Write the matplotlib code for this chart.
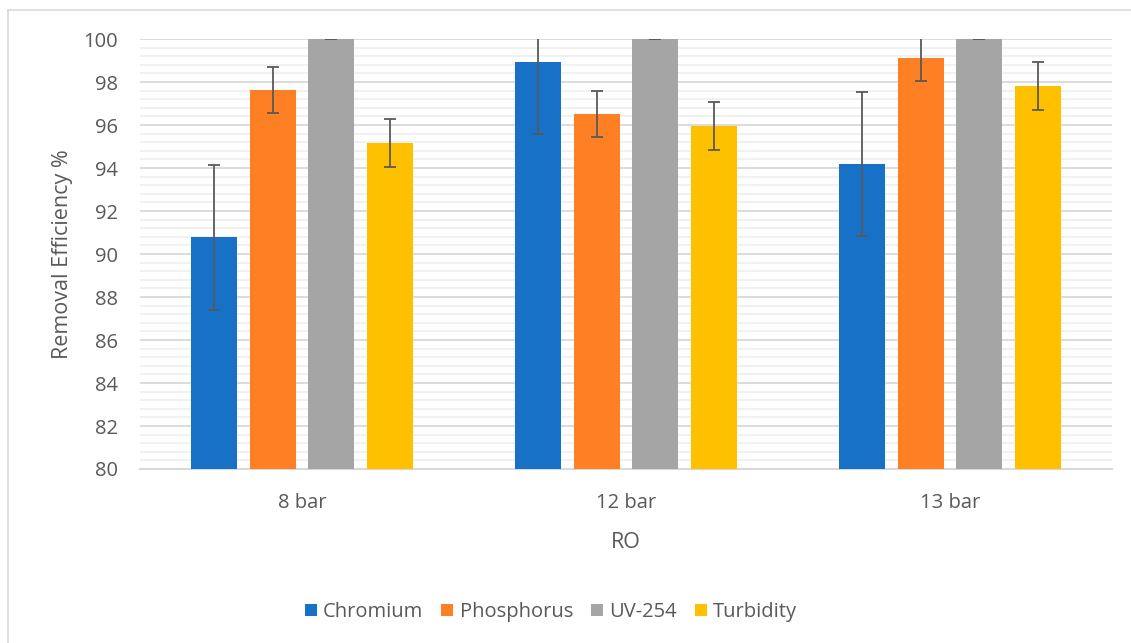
import matplotlib
matplotlib.use("Agg")
import matplotlib.pyplot as plt
import numpy as np
from matplotlib.lines import Line2D

plt.rcParams['font.family'] = ['Open Sans', 'DejaVu Sans']

categories = ["8 bar", "12 bar", "13 bar"]
series = ["Chromium", "Phosphorus", "UV-254", "Turbidity"]
chromium = [90.78, 98.95, 94.19]
phosphorus = [97.63, 96.52, 99.13]
uv254 = [100.0, 100.0, 100.0]
turbidity = [95.16, 95.97, 97.83]
err_chromium = [3.37, 3.37, 3.35]
err_phosphorus = [1.07, 1.08, 1.07]
err_uv254 = [0.0, 0.0, 0.0]
err_turbidity = [1.11, 1.12, 1.12]
colors = ["#1771C6", "#FF7F24", "#A5A5A5", "#FFC000"]

values = [chromium, phosphorus, uv254, turbidity]
errors = [err_chromium, err_phosphorus, err_uv254, err_turbidity]

W, H = 1131, 643
fig = plt.figure(figsize=(W / 100, H / 100), dpi=100)
ax = fig.add_axes([140 / W, 1 - 469 / H, (1112 - 140) / W, (469 - 39) / H])

text_color = "#595959"
x = np.arange(len(categories))
bw = 0.142
step = 0.182
for i, (name, vals, errs, c) in enumerate(zip(series, values, errors, colors)):
    pos = x + (i - 1.5) * step
    ax.bar(pos, np.array(vals) - 80, bottom=80, width=bw, color=c, label=name, zorder=3)
    ax.errorbar(pos, vals, yerr=errs, fmt="none", ecolor="#595959", elinewidth=1.3,
                capsize=4.5, capthick=1.3, zorder=4)

ax.set_xlim(-0.5, len(categories) - 0.5)
ax.set_ylim(80, 100)
ax.set_yticks(np.arange(80, 101, 2))
ax.set_yticks(np.arange(80, 100.01, 0.4), minor=True)
ax.grid(axis="y", which="major", color="#D9D9D9", linewidth=1.3, zorder=1)
ax.grid(axis="y", which="minor", color="#EFEFEF", linewidth=1.2, zorder=0)
ax.set_axisbelow(True)
for s in ["top", "right", "left"]:
    ax.spines[s].set_visible(False)
ax.spines["bottom"].set_color("#D9D9D9")
ax.spines["bottom"].set_linewidth(1.5)
ax.spines["bottom"].set_zorder(2)
ax.tick_params(axis="both", which="both", length=0, colors=text_color, labelsize=14.5)
ax.tick_params(axis="y", pad=16)
ax.tick_params(axis="x", pad=17)
ax.set_xticks(x)
ax.set_xticklabels(categories)
ax.set_xlabel("RO", color=text_color, fontsize=15.5, labelpad=14)
ax.set_ylabel("Removal Efficiency %", color=text_color, fontsize=15.5, labelpad=7)

handles, labels = ax.get_legend_handles_labels()
leg = fig.legend(handles, labels, loc="center", bbox_to_anchor=(551 / W, 1 - 612 / H),
                 ncol=4, frameon=False, fontsize=14.5, handlelength=0.6, handleheight=0.6,
                 handletextpad=0.3, columnspacing=0.9, labelcolor=text_color)

# outer chart frame (left and top edges visible)
fig.add_artist(Line2D([8 / W, 8 / W], [0, 1 - 10 / H], transform=fig.transFigure,
                      color="#D9D9D9", linewidth=1.2))
fig.add_artist(Line2D([8 / W, 1], [1 - 10 / H, 1 - 10 / H], transform=fig.transFigure,
                      color="#D9D9D9", linewidth=1.2))

fig.savefig("out.png", dpi=100)
